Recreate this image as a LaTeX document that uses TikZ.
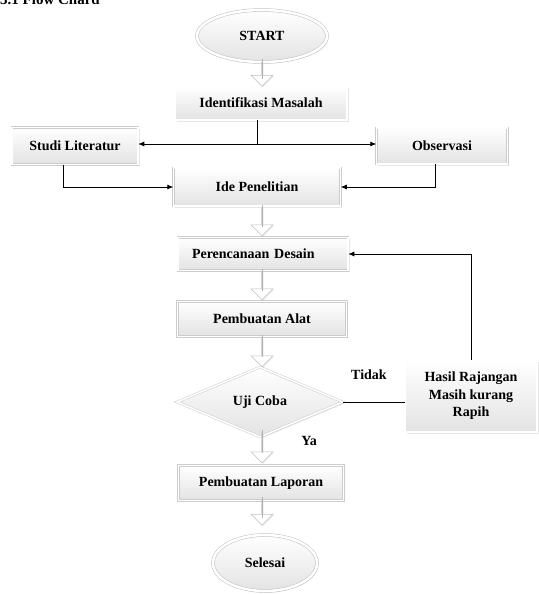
\documentclass[tikz,border=0pt]{standalone}
\usepackage{fontspec}
\setmainfont{Liberation Serif}
\usetikzlibrary{shapes.geometric,shapes.arrows,shadows,arrows.meta}
\begin{document}
\begin{tikzpicture}[x=1pt,y=-1pt,
  txt/.style={font=\bfseries\fontsize{14}{17}\selectfont},
  shd/.style={drop shadow={opacity=0.2,shadow xshift=1.5pt,shadow yshift=-1.5pt}},
  proc/.style={txt,rectangle,draw=gray!40,double=white,double distance=1.6pt,line width=0.5pt,
    top color=white,bottom color=gray!22,
    minimum width=168pt,minimum height=34pt,inner sep=2pt,shd},
  term/.style={txt,ellipse,draw=gray!50,double=white,double distance=2.5pt,line width=0.5pt,
    top color=white,bottom color=gray!22,inner sep=0pt,shd},
  dec/.style={txt,diamond,draw=gray!40,double=white,double distance=1.6pt,line width=0.5pt,
    top color=white,bottom color=gray!22,inner sep=0pt,shd},
  barrow/.style={single arrow,shape border rotate=270,draw=gray!50,fill=white,line width=0.5pt,
    minimum width=22pt,single arrow head extend=5pt,inner sep=0pt,
    drop shadow={opacity=0.15,shadow xshift=1pt,shadow yshift=-1pt}},
  conn/.style={draw=black,line width=0.8pt},
  arr/.style={conn,-{Latex[length=6pt,width=5pt]}},
  lbl/.style={font=\bfseries\fontsize{14}{17}\selectfont}
]
\useasboundingbox (0,0) rectangle (538,594);
\node[font=\bfseries\fontsize{15}{17}\selectfont,anchor=base west,inner sep=0pt] (title) at (0,5) {3.1 Flow Chard};

\node[term,minimum width=130pt,minimum height=52pt] (start) at (262,36) {START};
\node[proc,minimum width=172pt] (ident) at (261,103) {Identifikasi Masalah};
\node[proc,minimum width=126pt,minimum height=37pt] (studi) at (75,146) {Studi Literatur};
\node[proc,minimum width=131pt,minimum height=36pt] (obs) at (442,146) {Observasi};
\node[proc,minimum width=167pt,minimum height=38pt] (ide) at (257,187) {Ide Penelitian};
\node[proc,minimum width=170pt,minimum height=33pt,text width=142pt,align=left] (renc) at (263,254) {Perencanaan Desain};
\node[proc,minimum width=169pt,minimum height=35pt] (alat) at (262,319) {Pembuatan Alat};
\node[dec,minimum width=166pt,minimum height=70pt] (uji) at (260,402) {Uji Coba};
\node[proc,align=center,minimum width=132pt,minimum height=72pt,font=\bfseries\fontsize{14}{17.5}\selectfont] (hasil) at (471,396) {Hasil Rajangan\\Masih kurang\\Rapih};
\node[proc,minimum width=165pt,minimum height=35pt] (lap) at (261,483) {Pembuatan Laporan};
\node[term,minimum width=104pt,minimum height=56pt] (selesai) at (265,563) {Selesai};

\node[lbl] (tidak) at (369,375) {Tidak};
\node[lbl,fill=white,minimum width=40pt,minimum height=26pt,anchor=north west] (ya) at (289,428) {Ya};

% block arrows
\node[barrow,minimum height=24pt] (a1) at (262,74) {};
\node[barrow,minimum height=28pt] (a2) at (262,221.5) {};
\node[barrow,minimum height=28pt] (a3) at (262,285.5) {};
\node[barrow,minimum height=29pt] (a4) at (262,352) {};
\node[barrow,minimum height=30pt] (a5) at (262,447.5) {};
\node[barrow,minimum height=25pt] (a6) at (262,512.5) {};
\foreach \a in {a1,a2,a3,a4,a5,a6}{
  \draw[gray!60,line width=0.4pt] ([yshift=3pt]\a.north) -- ([yshift=-5pt]\a.center);
}

% connectors
\coordinate (j) at (257,144);
\draw[conn] (ident.south -| j) -- (j);
\draw[arr] (j) -- (studi.east |- j);
\draw[arr] (j) -- (obs.west |- j);
\coordinate (s1) at (63,165);
\coordinate (o1) at (435,164);
\draw[arr] (s1) |- (ide.west);
\draw[arr] (o1) |- (ide.east);
\draw[conn] (uji.east) -- (hasil.west |- uji.east);
\draw[arr] (hasil.north) |- (renc.east);
\end{tikzpicture}
\end{document}
